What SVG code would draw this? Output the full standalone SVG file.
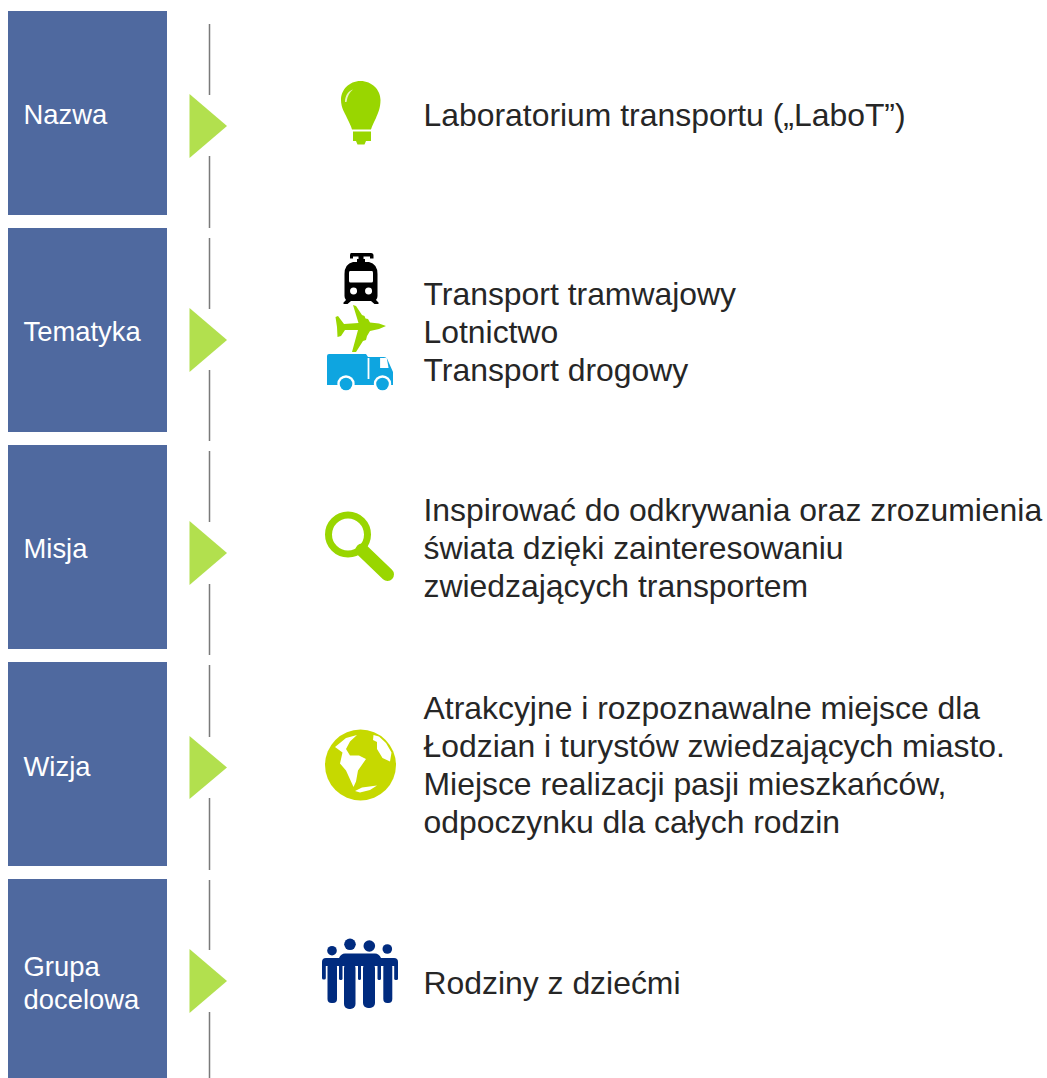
<svg xmlns="http://www.w3.org/2000/svg" width="1047" height="1078" viewBox="0 0 1047 1078">
<style>
text{font-family:"Liberation Sans",Arial,sans-serif}
.box{fill:#4f699f}
.lab{fill:#fff;font-size:27.4px}
.txt{fill:#262626;font-size:31.9px}
.arrow{fill:#b2e04e}
.ln{stroke:#7a7a7a;stroke-width:1.5;fill:none}
.g1{fill:#99d600}
.g2{fill:#c6d900}
.navy{fill:#002b7f}
.blue{fill:#0ea5e0}
</style>
<rect width="1047" height="1078" fill="#fff"/>
<g id="connectors">
<path class="ln" d="M209.500 24V95M209.500 156V228M209.500 238V309M209.500 370V441M209.500 451V522M209.500 584V655M209.500 665V737M209.500 798V870M209.500 880V950M209.500 1012V1078"/>
</g>
<g id="node-nazwa">
<rect class="box" x="8" y="11" width="159" height="204"/>
<text class="lab" x="23.500" y="124">Nazwa</text>
<path class="arrow" d="M189.500 94L227 126L189.500 158Z"/>
<g class="g1">
<path d="M360.500 81C349 81 341 90 341 100C341 108 345 113 347 118C349 122 351 126 352 129.500H371C372 126 374 122 376 118C378 113 380.500 108 380.500 100C380.500 90 372 81 360.500 81Z"/>
<path d="M353 131.500H371V141H366L364.500 144.500H357.500L356 141H353Z"/>
</g>
<path d="M345 102C345 96 348 91 353 89.500C349.500 92 347.500 96 346.500 102Z" fill="#e8f5c0"/>
<text class="txt" x="423.500" y="126">Laboratorium transportu („LaboT”)</text>
</g>
<g id="node-tematyka">
<rect class="box" x="8" y="228" width="159" height="204"/>
<text class="lab" x="23.500" y="341">Tematyka</text>
<path class="arrow" d="M189.500 308L227 340L189.500 372Z"/>
<path fill="#000" fill-rule="evenodd" d="M351 253H371Q373.500 253 373.500 255.500V258.500H370V256.500H363.500V259H365V262H357V259H358.500V256.500H353V258.500H350V255.500Q350 253 351 253ZM353 262H369Q377.500 264 377.500 274V296Q377.500 298.500 376 300L378.500 302.500V304H374.500L371 301H351L347.500 304H343.500V302.500L346 300Q344.500 298.500 344.500 296V274Q344.500 264 353 262ZM350 271H372Q373 271 373 273V281Q373 282.500 371.500 282.500H350.500Q349 282.500 349 281V273Q349 271 350 271ZM353.500 287.500A3.500 3.500 0 1 0 353.600 294.500A3.500 3.500 0 1 0 353.500 287.500ZM368.500 287.500A3.500 3.500 0 1 0 368.600 294.500A3.500 3.500 0 1 0 368.500 287.500Z"/>
<path fill="#99d600" d="M386 326L379 323.500 370 322.500 368 319 365.500 318.500 364.500 316 362 315 356 306 353 305 358.500 323 344 324 338 316 335.500 317 337 327 337.500 337 341 336 345 330 358 330 352 352 356 352 363 341 366 340 367 336 370 331 379 329Z"/>
<g class="blue">
<path d="M327 356Q327 354 329 354H366L368 357H384Q386 357 387 358.500L393 372V385H327Z"/>
</g>
<path d="M368.500 358V379M381 359H386L387.500 367H381Z" stroke="#fff" stroke-width="1.800" fill="#fff"/>
<circle cx="346" cy="384" r="8.700" fill="#fff"/>
<circle cx="382.500" cy="384" r="8.700" fill="#fff"/>
<circle class="blue" cx="346" cy="384" r="6.300"/>
<circle class="blue" cx="382.500" cy="384" r="6.300"/>
<text class="txt" x="423.500" y="305">Transport tramwajowy</text>
<text class="txt" x="423.500" y="343">Lotnictwo</text>
<text class="txt" x="423.500" y="381">Transport drogowy</text>
</g>
<g id="node-misja">
<rect class="box" x="8" y="445" width="159" height="204"/>
<text class="lab" x="23.500" y="558">Misja</text>
<path class="arrow" d="M189.500 521L227 553L189.500 585Z"/>
<circle cx="348" cy="534.500" r="19.500" fill="none" stroke="#99d600" stroke-width="7"/>
<path d="M362 550L387.500 574.500" fill="none" stroke="#99d600" stroke-width="13" stroke-linecap="round"/>
<text class="txt" x="423.500" y="521">Inspirować do odkrywania oraz zrozumienia</text>
<text class="txt" x="423.500" y="559">świata dzięki zainteresowaniu</text>
<text class="txt" x="423.500" y="597">zwiedzających transportem</text>
</g>
<g id="node-wizja">
<rect class="box" x="8" y="662" width="159" height="204"/>
<text class="lab" x="23.500" y="776">Wizja</text>
<path class="arrow" d="M189.500 736L227 767.500L189.500 799Z"/>
<circle class="g2" cx="360.500" cy="765" r="35.500"/>
<g fill="#fff">
<path d="M357 735L346 738 335 747 342.500 752.500 340 763.500 346 770.500 353.500 787 356 781.500 358 770.500 366 759 359 755.500 350 755.500 346 749 350 741.500Z"/>
<path d="M373.500 735L373 740 377 742 377 749 382.500 758 390 761.500 391.500 752.500 386 743 379 736.500Z"/>
<path d="M355 791L362 787.500 377 785.500 370 790 360 792.500Z"/>
</g>
<text class="txt" x="423.500" y="719">Atrakcyjne i rozpoznawalne miejsce dla</text>
<text class="txt" x="423.500" y="757">Łodzian i turystów zwiedzających miasto.</text>
<text class="txt" x="423.500" y="795">Miejsce realizacji pasji mieszkańców,</text>
<text class="txt" x="423.500" y="833">odpoczynku dla całych rodzin</text>
</g>
<g id="node-grupa">
<rect class="box" x="8" y="879" width="159" height="199"/>
<text class="lab" x="23.500" y="976">Grupa</text>
<text class="lab" x="23.500" y="1009">docelowa</text>
<path class="arrow" d="M189.500 949L227 981L189.500 1013Z"/>
<g class="navy">
<circle cx="332" cy="950.700" r="4.800"/><circle cx="350" cy="944.300" r="5.800"/><circle cx="369.300" cy="946" r="5.800"/><circle cx="387.300" cy="949" r="4.800"/>
<path d="M322 966V962Q322 958 326 958H339Q341 953.500 345 953.500H375Q379 953.500 381 958H394Q398 958 398 962V966Z"/>
<rect x="322" y="963" width="3.800" height="16.500" rx="1.500"/>
<rect x="327.500" y="963" width="9.500" height="40" rx="4"/>
<rect x="339" y="963" width="3.500" height="17" rx="1.500"/>
<rect x="344" y="963" width="11.500" height="46" rx="5"/>
<rect x="358" y="963" width="3" height="17" rx="1.500"/>
<rect x="363" y="963" width="12" height="45" rx="5"/>
<rect x="377.500" y="963" width="3.500" height="17" rx="1.500"/>
<rect x="383.300" y="963" width="9" height="40" rx="4"/>
<rect x="394.200" y="963" width="3.800" height="17" rx="1.500"/>
</g>
<text class="txt" x="423.500" y="994">Rodziny z dziećmi</text>
</g>
</svg>
